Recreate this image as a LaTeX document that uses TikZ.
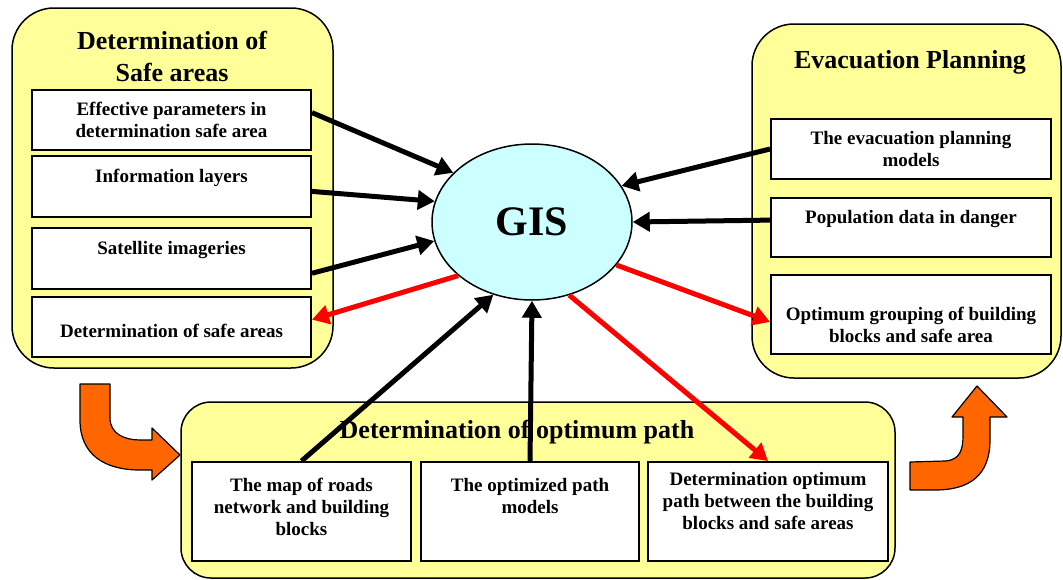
\documentclass[tikz,border=0pt]{standalone}
\usepackage{fontspec}
\setmainfont{Liberation Serif}
\usetikzlibrary{arrows.meta,shapes.geometric}

\definecolor{panelyellow}{RGB}{255,255,153}
\definecolor{giscyan}{RGB}{204,255,255}
\definecolor{arroworange}{RGB}{255,102,0}

\tikzset{
  panel/.style={draw, line width=1.5pt, fill=panelyellow, rounded corners=42pt},
  item/.style={draw, line width=2pt, fill=white, align=center, inner sep=0pt,
    font=\fontsize{19}{22}\selectfont\bfseries},
  headline/.style={align=center, font=\fontsize{26}{32}\selectfont\bfseries},
  feed/.style={line width=5pt, -{Triangle[length=17pt,width=19pt]}},
  result/.style={feed, red},
  turnarrow/.style={draw=black, line width=1.2pt, fill=arroworange, line join=round},
}

\begin{document}
\begin{tikzpicture}[x=1pt,y=-1pt]
\useasboundingbox[fill=white] (0,0) rectangle (1063,579);

% the three panels
\node[panel, minimum width=321pt, minimum height=360pt] (safe) at (172.5,188) {};
\node[panel, minimum width=309pt, minimum height=354pt] (evac) at (906.5,201) {};
\node[panel, rounded corners=30pt, minimum width=714pt, minimum height=176pt] (path) at (538,490) {};

\node[headline] (safetitle) at (172,56) {Determination of\\Safe areas};
\node[headline] (evactitle) at (910,62) {Evacuation Planning};
\node[headline] (pathtitle) at (517,432) {Determination of optimum path};

% left boxes
\node[item, minimum width=279pt, minimum height=60pt] (param) at (171.5,120) {Effective parameters in\\determination safe area};
\node[item, minimum width=279pt, minimum height=61pt] (layers) at (171.5,186.5) {Information layers\\~};
\node[item, minimum width=279pt, minimum height=61pt] (imagery) at (171.5,258.5) {Satellite imageries\\~};
\node[item, minimum width=279pt, minimum height=60pt] (safearea) at (171.5,327) {~\\Determination of safe areas};

% right boxes
\node[item, minimum width=280pt, minimum height=60pt] (models) at (911,149) {The evacuation planning\\models};
\node[item, minimum width=280pt, minimum height=59pt] (population) at (911,227.5) {Population data in danger\\~};
\node[item, minimum width=280pt, minimum height=79pt] (grouping) at (911,314.5) {\rule{0pt}{35pt}Optimum grouping of building\\blocks and safe area};

% bottom boxes
\node[item, minimum width=219pt, minimum height=99pt] (roads) at (301.5,511.5) {\rule{0pt}{25pt}The map of roads\\network and building\\blocks\\~};
\node[item, minimum width=218pt, minimum height=99pt] (pathmodels) at (530,511.5) {\rule{0pt}{25pt}The optimized path\\models\\~\\~};
\node[item, minimum width=240pt, minimum height=99pt] (optpath) at (768,511.5) {Determination optimum\\path between the building\\blocks and safe areas\\~};

% GIS
\node[ellipse, draw, line width=1.5pt, fill=giscyan, minimum width=200pt, minimum height=156pt,
  font=\fontsize{42}{50}\selectfont\bfseries] (gis) at (532,222) {GIS};

\draw[feed] (param.3) -- (gis.148);
\draw[feed] (layers.-2) -- (gis.168);
\draw[feed] (imagery.-6) -- (gis.191);
\draw[result] (gis.216) -- (safearea.3);
\draw[feed] (roads.north) -- (gis.242);
\draw[feed] (pathmodels.north) -- (gis.270);
\draw[result] (gis.297) -- (optpath.north);
\draw[result] (gis.333) -- (grouping.183);
\draw[feed] (models.west) -- (gis.22);
\draw[feed] (population.177) -- (gis.0);

% orange turn arrows
\path[turnarrow] (80,384) -- (110,384) -- (110,418) .. controls (110,434) and (125,440) .. (140,440)
  -- (152,440) -- (152,428) -- (180,455) -- (152,480) -- (152,470) -- (140,470)
  .. controls (105,470) and (80,455) .. (80,420) -- cycle;
\path[turnarrow] (910,462) -- (945,461) .. controls (960,460) and (963,450) .. (963,435)
  -- (963,417) -- (952,417) -- (977,386) -- (1007,417) -- (990,417) -- (990,440)
  .. controls (990,475) and (970,490) .. (935,490) -- (910,490) -- cycle;
\end{tikzpicture}
\end{document}
